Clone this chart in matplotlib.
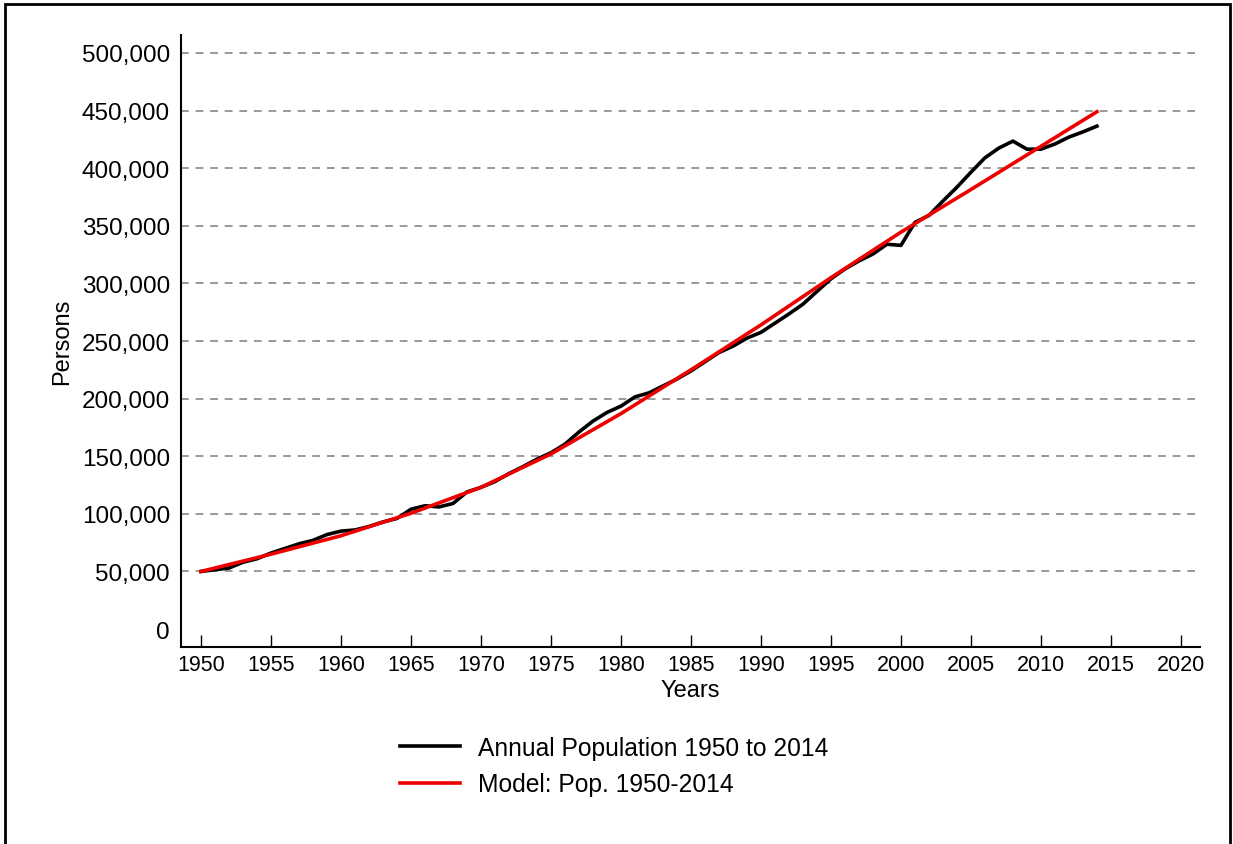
import matplotlib
matplotlib.use('Agg')
import matplotlib.pyplot as plt
from matplotlib.patches import Rectangle
from matplotlib.ticker import FuncFormatter

plt.rcParams['font.family'] = ['Liberation Sans', 'DejaVu Sans']

# ── DATA ──────────────────────────────────────────────────
years = list(range(1950, 2015))
population = [
    50000, 51500, 53000, 58000, 61000, 66000, 70000, 74000, 77000, 82000,
    85000, 86000, 89000, 93000, 96000, 104000, 107000, 106000, 109000, 119000,
    123000, 128000, 135000, 141000, 147500, 153000, 160500, 171000, 180500, 188000,
    193500, 201500, 205000, 211000, 217000, 224000, 232000, 240000, 245500, 252500,
    257500, 265500, 273500, 282000, 293000, 304000, 312500, 319500, 325500, 334000,
    333000, 353000, 359000, 371500, 383500, 396500, 409000, 417500, 423500, 416500,
    416500, 421000, 427000, 431500, 436500,
]

model_years = [1950, 1955, 1960, 1965, 1970, 1975, 1980, 1985, 1990, 1995,
               2000, 2005, 2010, 2014]
model_pop = [50000, 65000, 81000, 100500, 123000, 152000, 187000, 225000,
             264000, 305000, 344500, 381500, 419000, 449000]

x_ticks = list(range(1950, 2021, 5))
y_ticks = list(range(0, 500001, 50000))

# ── FIGURE ────────────────────────────────────────────────
fig = plt.figure(figsize=(12.33, 8.45), dpi=100)
ax = fig.add_axes([0.1468, 0.2331, 0.8264, 0.7243])

ax.plot(years, population, color='black', linewidth=2.6,
        label='Annual Population 1950 to 2014')
ax.plot(model_years, model_pop, color='#ee0000', linewidth=2.6,
        label='Model: Pop. 1950-2014')

ax.set_xlim(1948.57, 2021.36)
ax.set_ylim(-15600, 515600)
ax.set_xticks(x_ticks)
ax.set_yticks(y_ticks)
ax.yaxis.set_major_formatter(FuncFormatter(lambda v, p: f'{int(v):,}'))

ax.spines['top'].set_visible(False)
ax.spines['right'].set_visible(False)
ax.spines['left'].set_linewidth(1.5)
ax.spines['bottom'].set_linewidth(1.5)

ax.tick_params(axis='x', direction='in', length=9, width=1, pad=5)
ax.tick_params(axis='y', length=0, pad=8, labelsize=17.5)
# the year labels are set narrow, as in the source graph
for lbl in ax.get_xticklabels():
    lbl.set_family(['Liberation Sans Narrow', 'Liberation Sans'])
    lbl.set_fontsize(15.5)

ax.yaxis.grid(True, color='#999999', linestyle=(0, (4, 3.5)), linewidth=1.4)
ax.get_ygridlines()[0].set_visible(False)
ax.set_axisbelow(True)

ax.set_xlabel('Years', fontsize=17, labelpad=3)
ax.set_ylabel('Persons', fontsize=17, labelpad=6)

leg = fig.legend(loc='upper left', bbox_to_anchor=(0.3066, 0.154),
                 frameon=False, fontsize=17.7, handlelength=2.44,
                 handletextpad=0.73, labelspacing=0.5)

# outer frame round the whole graph
fig.add_artist(Rectangle((0.004, -0.01), 0.9935, 1.004, transform=fig.transFigure,
                         fill=False, edgecolor='black', linewidth=2))

fig.savefig('out.png', dpi=100)
